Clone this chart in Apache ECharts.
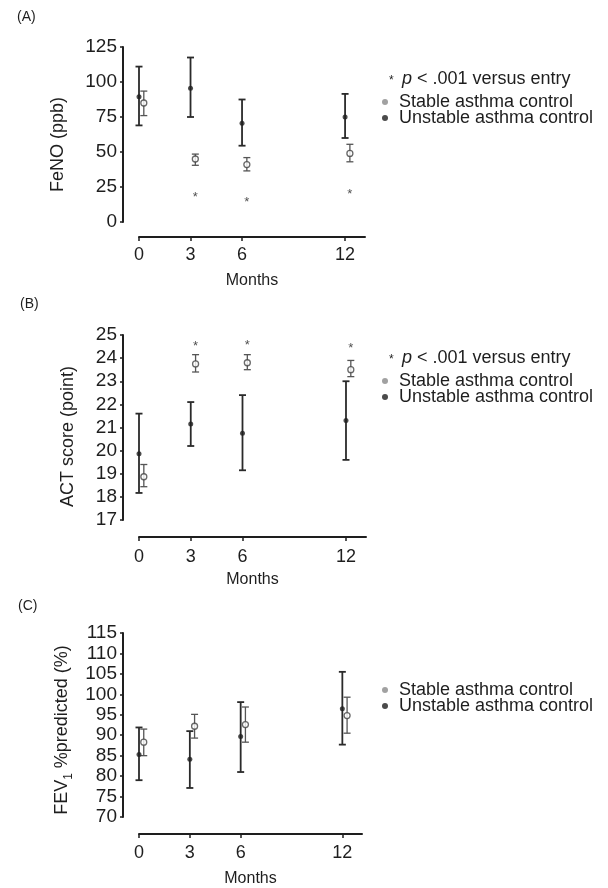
<!DOCTYPE html>
<html>
<head>
<meta charset="utf-8">
<script src="https://cdn.jsdelivr.net/npm/echarts@6/dist/echarts.min.js"></script>
<style>
  html, body { margin: 0; padding: 0; background: #fff; }
  #chart { width: 608px; height: 888px; }
</style>
</head>
<body>
<div id="chart"></div>
<script>
// months of follow-up
var months = [0, 3, 6, 12];

// (A) FeNO, ppb
var fenoStableMean = [85, 45, 41, 49];
var fenoStableLow = [76, 40.5, 36.5, 43];
var fenoStableHigh = [93.5, 48.5, 46, 55.5];
var fenoUnstableMean = [89.5, 95.5, 70.5, 75];
var fenoUnstableLow = [69, 75, 54.5, 60];
var fenoUnstableHigh = [111, 117.5, 87.5, 91.5];
var fenoStar = [null, 20, 16, 21.5];

// (B) ACT score
var actStableMean = [18.87, 23.75, 23.8, 23.5];
var actStableLow = [18.44, 23.4, 23.5, 23.2];
var actStableHigh = [19.4, 24.15, 24.15, 23.9];
var actUnstableMean = [19.87, 21.15, 20.75, 21.3];
var actUnstableLow = [18.17, 20.2, 19.15, 19.6];
var actUnstableHigh = [21.6, 22.1, 22.4, 23.0];
var actStar = [null, 24.65, 24.7, 24.55];

// (C) FEV1 %predicted
var fevStableMean = [88.3, 92.2, 92.6, 94.8];
var fevStableLow = [85, 89.3, 88.3, 90.5];
var fevStableHigh = [91.5, 95.1, 96.9, 99.3];
var fevUnstableMean = [85.3, 84.1, 89.7, 96.5];
var fevUnstableLow = [79, 77.1, 81, 87.7];
var fevUnstableHigh = [91.9, 91, 98.1, 105.5];

var STABLE = 'Stable asthma control';
var UNSTABLE = 'Unstable asthma control';
var dodge = 0.28; // stable group drawn a bit right of the month
var ink = '#1e1e1e';
var font = '"Liberation Sans", Arial, sans-serif';

function errData(low, high, shift) {
    return months.map(function (m, i) { return [m + shift, low[i], high[i]]; });
}
function meanData(mean, shift) {
    return months.map(function (m, i) { return [m + shift, mean[i]]; });
}
function starData(vals) {
    var out = [];
    months.forEach(function (m, i) {
        if (vals[i] != null) out.push([m + dodge, vals[i]]);
    });
    return out;
}

function errRender(color, width) {
    return function (params, api) {
        var x = api.value(0);
        var a = api.coord([x, api.value(1)]);
        var b = api.coord([x, api.value(2)]);
        var c = 3.5;
        var st = { stroke: color, lineWidth: width };
        return {
            type: 'group',
            children: [
                { type: 'line', shape: { x1: a[0], y1: a[1], x2: b[0], y2: b[1] }, style: st },
                { type: 'line', shape: { x1: a[0] - c, y1: a[1], x2: a[0] + c, y2: a[1] }, style: st },
                { type: 'line', shape: { x1: b[0] - c, y1: b[1], x2: b[0] + c, y2: b[1] }, style: st }
            ]
        };
    };
}

function panelSeries(idx, sMean, sLow, sHigh, uMean, uLow, uHigh, stars) {
    var list = [
        { name: 'Unstable SD', type: 'custom', xAxisIndex: idx, yAxisIndex: idx,
          renderItem: errRender('#2a2a2a', 1.8), encode: { x: 0, y: [1, 2] },
          data: errData(uLow, uHigh, 0), z: 2 },
        { name: 'Stable SD', type: 'custom', xAxisIndex: idx, yAxisIndex: idx,
          renderItem: errRender('#555', 1.3), encode: { x: 0, y: [1, 2] },
          data: errData(sLow, sHigh, dodge), z: 2 },
        { name: UNSTABLE, type: 'scatter', xAxisIndex: idx, yAxisIndex: idx,
          symbol: 'circle', symbolSize: 5, itemStyle: { color: ink },
          data: meanData(uMean, 0), z: 3 },
        { name: STABLE, type: 'scatter', xAxisIndex: idx, yAxisIndex: idx,
          symbol: 'circle', symbolSize: 6,
          itemStyle: { color: '#fff', borderColor: '#444', borderWidth: 1.3 },
          data: meanData(sMean, dodge), z: 3 }
    ];
    if (stars) {
        list.push({ name: 'p star', type: 'scatter', xAxisIndex: idx, yAxisIndex: idx,
            symbolSize: 0, data: starData(stars), z: 3,
            label: { show: true, formatter: '*', position: 'inside', fontSize: 13,
                     color: ink, offset: [0, 3] } });
    }
    return list;
}

// grid geometry of the three panels
var grids = [
    { left: 139, top: 47, width: 226, height: 175 },
    { left: 139, top: 335, width: 227, height: 185 },
    { left: 139, top: 633, width: 223, height: 187 }
];
var xOffsets = [15, 17, 17];
var xLabelMargins = [9, 11, 10];
var xNameGaps = [36, 35, 37];

var xAxes = grids.map(function (g, i) {
    return {
        gridIndex: i, type: 'value', min: 0, max: 13.16, offset: xOffsets[i],
        axisLine: { onZero: false, lineStyle: { color: ink, width: 2 } },
        axisTick: { customValues: months, length: 4, lineStyle: { color: ink, width: 1.5 } },
        axisLabel: { customValues: months, margin: xLabelMargins[i], fontSize: 18, color: ink, fontFamily: font },
        splitLine: { show: false },
        name: 'Months', nameLocation: 'middle', nameGap: xNameGaps[i],
        nameTextStyle: { fontSize: 16, color: ink, fontFamily: font }
    };
});

function yAxis(i, min, max, interval, name, gap, shift, rich) {
    return {
        gridIndex: i, type: 'value', min: min, max: max, interval: interval, offset: 16,
        axisLine: { show: true, onZero: false, lineStyle: { color: ink, width: 2 } },
        axisTick: { show: true, length: 3, lineStyle: { color: ink, width: 1.5 } },
        axisLabel: { margin: 6, fontSize: 19, color: ink, fontFamily: font },
        splitLine: { show: false },
        name: name, nameLocation: 'middle', nameGap: gap,
        nameTextStyle: { fontSize: 18, color: ink, fontFamily: font,
                         padding: [0, shift * 2, 0, 0], rich: rich }
    };
}

var yAxes = [
    yAxis(0, 0, 125, 25, 'FeNO (ppb)', 56, 10),
    yAxis(1, 17, 25, 1, 'ACT score (point)', 46, 9),
    yAxis(2, 70, 115, 5, 'FEV{sub|1} %predicted (%)', 52, 5,
          { sub: { fontSize: 12, verticalAlign: 'bottom', padding: [0, 0, -4, 0], color: ink, fontFamily: font } })
];

function seriesLegend(top) {
    return {
        left: 382, top: top, orient: 'vertical', padding: 0, itemGap: -2,
        itemWidth: 6, itemHeight: 6, selectedMode: false,
        textStyle: { fontSize: 18, lineHeight: 13, color: ink, fontFamily: font, padding: [0, 0, 0, 6] },
        data: [
            { name: STABLE, icon: 'circle', itemStyle: { color: '#8a8a8a', borderWidth: 0 } },
            { name: UNSTABLE, icon: 'circle', itemStyle: { color: ink, borderWidth: 0 } }
        ]
    };
}
function starLegend(top) {
    return {
        left: 384, top: top, padding: 0, selectedMode: false, icon: 'none',
        itemWidth: 0, itemHeight: 0,
        formatter: function () { return '{s|*}{i|p} < .001 versus entry'; },
        textStyle: { fontSize: 18, lineHeight: 13, color: ink, fontFamily: font,
            rich: { s: { fontSize: 12, width: 13, color: ink, padding: [4, 0, 0, 0] },
                    i: { fontSize: 18, fontStyle: 'italic', color: ink, fontFamily: font } } },
        data: ['p star']
    };
}

var chart = echarts.init(document.getElementById('chart'), null, { renderer: 'canvas' });
chart.setOption({
    animation: false,
    backgroundColor: '#fff',
    textStyle: { fontFamily: font },
    title: [
        { text: '(A)', left: 17, top: 10, padding: 0, textStyle: { fontSize: 14, fontWeight: 'normal', color: ink, fontFamily: font } },
        { text: '(B)', left: 20, top: 297, padding: 0, textStyle: { fontSize: 14, fontWeight: 'normal', color: ink, fontFamily: font } },
        { text: '(C)', left: 18, top: 599, padding: 0, textStyle: { fontSize: 14, fontWeight: 'normal', color: ink, fontFamily: font } }
    ],
    legend: [
        starLegend(70),
        seriesLegend(93),
        starLegend(349),
        seriesLegend(372),
        seriesLegend(681)
    ],
    grid: grids,
    xAxis: xAxes,
    yAxis: yAxes,
    series: [].concat(
        panelSeries(0, fenoStableMean, fenoStableLow, fenoStableHigh, fenoUnstableMean, fenoUnstableLow, fenoUnstableHigh, fenoStar),
        panelSeries(1, actStableMean, actStableLow, actStableHigh, actUnstableMean, actUnstableLow, actUnstableHigh, actStar),
        panelSeries(2, fevStableMean, fevStableLow, fevStableHigh, fevUnstableMean, fevUnstableLow, fevUnstableHigh, null)
    )
});
</script>
</body>
</html>
